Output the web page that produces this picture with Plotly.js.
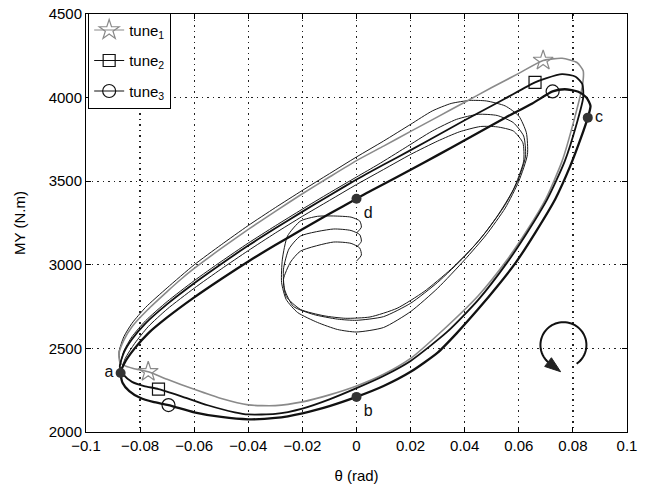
<!DOCTYPE html>
<html>
<head>
<meta charset="utf-8">
<script src="https://cdn.plot.ly/plotly-3.0.1.min.js"></script>
<style>html,body{margin:0;padding:0;background:#fff;}#chart{width:645px;height:486px;}</style>
</head>
<body>
<div id="chart"></div>
<script>
// ---- data (theta in rad, MY in N.m) ----
const seriesNames = ['tune<sub>1</sub>', 'tune<sub>2</sub>', 'tune<sub>3</sub>'];

// transient (start-up spiral) of each tune
const tune1TransX = [0, 0.0018, 0.0012, -0.002, -0.0085, -0.0144, -0.0207, -0.0255, -0.0274, -0.0277, -0.026, -0.0218, -0.0144, -0.007, 0, 0.01, 0.02, 0.03, 0.04, 0.048, 0.055, 0.06, 0.0632, 0.0628, 0.06, 0.055, 0.048, 0.042, 0.035, 0.028, 0.02, 0.01, 0, -0.01, -0.02, -0.03, -0.04, -0.05, -0.06, -0.07, -0.078, -0.083, -0.086, -0.0878, -0.0875];
const tune1TransY = [3190, 3225, 3262, 3285, 3292, 3290, 3262, 3172, 3034, 2895, 2793, 2715, 2655, 2613, 2598, 2625, 2720, 2860, 3030, 3180, 3340, 3500, 3660, 3790, 3890, 3950, 3980, 3983, 3965, 3920, 3840, 3740, 3645, 3545, 3445, 3342, 3235, 3120, 3000, 2862, 2745, 2650, 2570, 2480, 2420];

const tune2TransX = [0, 0.0018, 0.0012, -0.002, -0.0085, -0.0207, -0.025, -0.027, -0.0266, -0.0233, -0.0159, -0.007, 0, 0.01, 0.02, 0.03, 0.04, 0.048, 0.055, 0.0598, 0.0625, 0.0618, 0.058, 0.052, 0.045, 0.037, 0.028, 0.018, 0.008, 0, -0.01, -0.02, -0.03, -0.04, -0.05, -0.06, -0.07, -0.078, -0.083, -0.086, -0.0875];
const tune2TransY = [3106, 3140, 3180, 3205, 3214, 3172, 3094, 2974, 2853, 2751, 2703, 2675, 2668, 2690, 2770, 2895, 3050, 3200, 3360, 3510, 3650, 3770, 3850, 3893, 3900, 3870, 3800, 3700, 3600, 3525, 3430, 3333, 3233, 3130, 3020, 2905, 2780, 2665, 2570, 2485, 2390];

const tune3TransX = [0, 0.0018, 0.0012, -0.002, -0.0085, -0.0207, -0.0244, -0.027, -0.026, -0.0207, -0.012, -0.004, 0.005, 0.015, 0.025, 0.035, 0.045, 0.052, 0.058, 0.0618, 0.0615, 0.058, 0.052, 0.0458, 0.038, 0.03, 0.02, 0.01, 0, -0.01, -0.02, -0.03, -0.04, -0.05, -0.06, -0.07, -0.077, -0.082, -0.0855, -0.0872];
const tune3TransY = [3022, 3058, 3100, 3128, 3136, 3082, 3016, 2913, 2811, 2733, 2695, 2680, 2688, 2740, 2840, 2975, 3140, 3290, 3450, 3620, 3730, 3800, 3825, 3827, 3795, 3740, 3660, 3570, 3480, 3385, 3290, 3190, 3085, 2975, 2860, 2735, 2630, 2530, 2440, 2353];

// steady hysteresis loop of each tune (a -> b -> c -> top -> d -> a)
const tune1LoopX = [-0.0875, -0.0862, -0.0825, -0.077, -0.07, -0.06, -0.05, -0.04, -0.03, -0.02, -0.01, 0, 0.01, 0.02, 0.031, 0.045, 0.055, 0.063, 0.07, 0.076, 0.0805, 0.0835, 0.0838, 0.0815, 0.076, 0.069, 0.06, 0.05, 0.04, 0.03, 0.02, 0.01, 0, -0.01, -0.02, -0.03, -0.04, -0.05, -0.06, -0.065, -0.07, -0.0773, -0.083, -0.086, -0.0878, -0.0875];
const tune1LoopY = [2420, 2400, 2380, 2360, 2315, 2255, 2200, 2162, 2158, 2180, 2222, 2275, 2345, 2440, 2595, 2815, 3015, 3205, 3395, 3620, 3870, 4070, 4160, 4210, 4235, 4222, 4145, 4060, 3972, 3885, 3798, 3710, 3623, 3525, 3425, 3320, 3212, 3098, 2978, 2912, 2840, 2730, 2630, 2550, 2470, 2420];

const tune2LoopX = [-0.0875, -0.086, -0.083, -0.0785, -0.0732, -0.065, -0.055, -0.045, -0.04, -0.03, -0.02, -0.01, 0, 0.01, 0.02, 0.0336, 0.045, 0.0558, 0.063, 0.0706, 0.077, 0.0815, 0.0838, 0.0835, 0.081, 0.076, 0.07, 0.066, 0.055, 0.045, 0.035, 0.025, 0.015, 0.005, 0, -0.01, -0.02, -0.03, -0.04, -0.05, -0.06, -0.07, -0.078, -0.083, -0.086, -0.0875];
const tune2LoopY = [2390, 2340, 2300, 2275, 2257, 2215, 2160, 2118, 2105, 2108, 2140, 2195, 2262, 2335, 2425, 2600, 2790, 3016, 3190, 3394, 3620, 3850, 4000, 4080, 4125, 4140, 4115, 4091, 3995, 3908, 3820, 3730, 3642, 3555, 3510, 3415, 3318, 3218, 3115, 3005, 2890, 2765, 2650, 2555, 2475, 2390];

const tune3LoopX = [-0.0872, -0.0865, -0.084, -0.08, -0.0752, -0.0695, -0.06, -0.05, -0.04, -0.03, -0.02, -0.01, 0, 0.01, 0.02, 0.03, 0.037, 0.045, 0.052, 0.059, 0.066, 0.0735, 0.079, 0.083, 0.0855, 0.0865, 0.085, 0.082, 0.077, 0.0725, 0.065, 0.055, 0.045, 0.035, 0.025, 0.015, 0.005, 0, -0.01, -0.02, -0.03, -0.04, -0.05, -0.06, -0.07, -0.077, -0.082, -0.0855, -0.0872];
const tune3LoopY = [2353, 2295, 2245, 2205, 2180, 2161, 2118, 2090, 2076, 2084, 2112, 2155, 2210, 2275, 2360, 2475, 2590, 2735, 2870, 3016, 3190, 3394, 3590, 3760, 3880, 3950, 4000, 4035, 4050, 4037, 3965, 3880, 3790, 3700, 3612, 3525, 3440, 3395, 3305, 3212, 3118, 3020, 2915, 2805, 2685, 2590, 2500, 2420, 2353];

// marker positions on each tune
const tune1MarkX = [0.069, -0.077];   const tune1MarkY = [4222, 2360];
const tune2MarkX = [0.066, -0.0732];  const tune2MarkY = [4091, 2257];
const tune3MarkX = [0.0725, -0.0695]; const tune3MarkY = [4037, 2161];

// labelled operating points
const pointLabels = ['a', 'b', 'c', 'd'];
const pointX = [-0.0872, 0, 0.0855, 0];
const pointY = [2353, 2210, 3880, 3395];

// axis ticks
const xTicks = [-0.1, -0.08, -0.06, -0.04, -0.02, 0, 0.02, 0.04, 0.06, 0.08, 0.1];
const yTicks = [2000, 2500, 3000, 3500, 4000, 4500];

// ---- styles ----
const styles = [
  {color: '#8a8a8a', width: 1.6, symbol: 'star-open', msize: 15},
  {color: '#111111', width: 1.8, symbol: 'square-open', msize: 12},
  {color: '#111111', width: 2.3, symbol: 'circle-open', msize: 13}
];
const trans = [[tune1TransX, tune1TransY], [tune2TransX, tune2TransY], [tune3TransX, tune3TransY]];
const loops = [[tune1LoopX, tune1LoopY], [tune2LoopX, tune2LoopY], [tune3LoopX, tune3LoopY]];
const marks = [[tune1MarkX, tune1MarkY], [tune2MarkX, tune2MarkY], [tune3MarkX, tune3MarkY]];

const traces = [];
for (let i = 0; i < 3; i++) {
  const s = styles[i];
  traces.push({x: trans[i][0], y: trans[i][1], mode: 'lines', type: 'scatter',
    line: {color: '#1a1a1a', width: 1, shape: 'spline', smoothing: 0.6},
    showlegend: false, hoverinfo: 'skip', legendgroup: 'g' + i});
  traces.push({x: loops[i][0], y: loops[i][1], mode: 'lines', type: 'scatter',
    line: {color: s.color, width: s.width, shape: 'spline', smoothing: 0.6},
    showlegend: false, hoverinfo: 'skip', legendgroup: 'g' + i});
}
for (let i = 0; i < 3; i++) {
  const s = styles[i];
  traces.push({x: marks[i][0], y: marks[i][1], mode: 'markers', type: 'scatter',
    marker: {symbol: s.symbol, size: s.msize, color: s.color, line: {width: 1.2, color: s.color}},
    showlegend: false, legendgroup: 'g' + i});
}
for (let i = 0; i < 3; i++) {
  const s = styles[i];
  traces.push({x: [null], y: [null], mode: 'lines+markers', type: 'scatter', name: seriesNames[i],
    line: {color: s.color, width: 1.2},
    marker: {symbol: s.symbol, size: s.msize, color: s.color, line: {width: 1.2, color: s.color}},
    legendgroup: 'g' + i});
}
traces.push({x: pointX, y: pointY, text: pointLabels, mode: 'markers+text', type: 'scatter',
  marker: {size: 10, color: '#333'},
  textposition: ['middle left', 'bottom right', 'middle right', 'bottom right'],
  textfont: {size: 16, color: '#111'}, showlegend: false, cliponaxis: false});

// rotation-direction arrow (decoration, drawn as shapes)
const arcC = [0.0765, 2520], arcR = [0.0085, 137];
const toData = (u, v) => (arcC[0] + arcR[0] * u) + ',' + (arcC[1] + arcR[1] * v);
let arcPath = '';
for (let a = -55; a <= 230; a += 5) {
  const r = a * Math.PI / 180;
  arcPath += (arcPath ? ' L' : 'M') + toData(Math.cos(r), Math.sin(r));
}
const bA = 228 * Math.PI / 180, tA = 264 * Math.PI / 180;
const B = [Math.cos(bA), Math.sin(bA)], T = [1.17 * Math.cos(tA), 1.17 * Math.sin(tA)];
const dl = Math.hypot(T[0] - B[0], T[1] - B[1]);
const N = [-(T[1] - B[1]) / dl, (T[0] - B[0]) / dl];
const hw = 0.24;
const headPath = 'M' + toData(T[0], T[1]) + ' L' + toData(B[0] + hw * N[0], B[1] + hw * N[1]) +
  ' L' + toData(B[0] - hw * N[0], B[1] - hw * N[1]) + ' Z';

const axisCommon = {showline: true, linecolor: '#000', linewidth: 1, mirror: 'ticks',
  ticks: 'inside', ticklen: 5, tickcolor: '#000', showgrid: true, gridcolor: '#222',
  gridwidth: 1.3, griddash: '1.5px,4px', zeroline: false, tickfont: {size: 15, color: '#000'}};

const layout = {
  width: 645, height: 486,
  margin: {l: 86, r: 18, t: 14, b: 54},
  paper_bgcolor: '#fff', plot_bgcolor: '#fff',
  font: {family: 'Liberation Sans, Arial, sans-serif', size: 15, color: '#000'},
  xaxis: Object.assign({}, axisCommon, {range: [-0.1, 0.1], tickvals: xTicks,
    title: {text: 'θ (rad)', font: {size: 15}, standoff: 17}}),
  yaxis: Object.assign({}, axisCommon, {range: [2000, 4500], tickvals: yTicks,
    title: {text: 'MY (N.m)', font: {size: 15}, standoff: 19}}),
  legend: {x: 0.004, y: 1.003, xanchor: 'left', yanchor: 'top', bgcolor: '#fff',
    bordercolor: '#000', borderwidth: 1, font: {size: 15}, tracegroupgap: 8},
  showlegend: true,
  shapes: [
    {type: 'path', path: arcPath, xref: 'x', yref: 'y', line: {color: '#111', width: 2}},
    {type: 'path', path: headPath, xref: 'x', yref: 'y', fillcolor: '#222', line: {color: '#222', width: 1}}
  ]
};

Plotly.newPlot('chart', traces, layout, {displayModeBar: false, staticPlot: true});
</script>
</body>
</html>
